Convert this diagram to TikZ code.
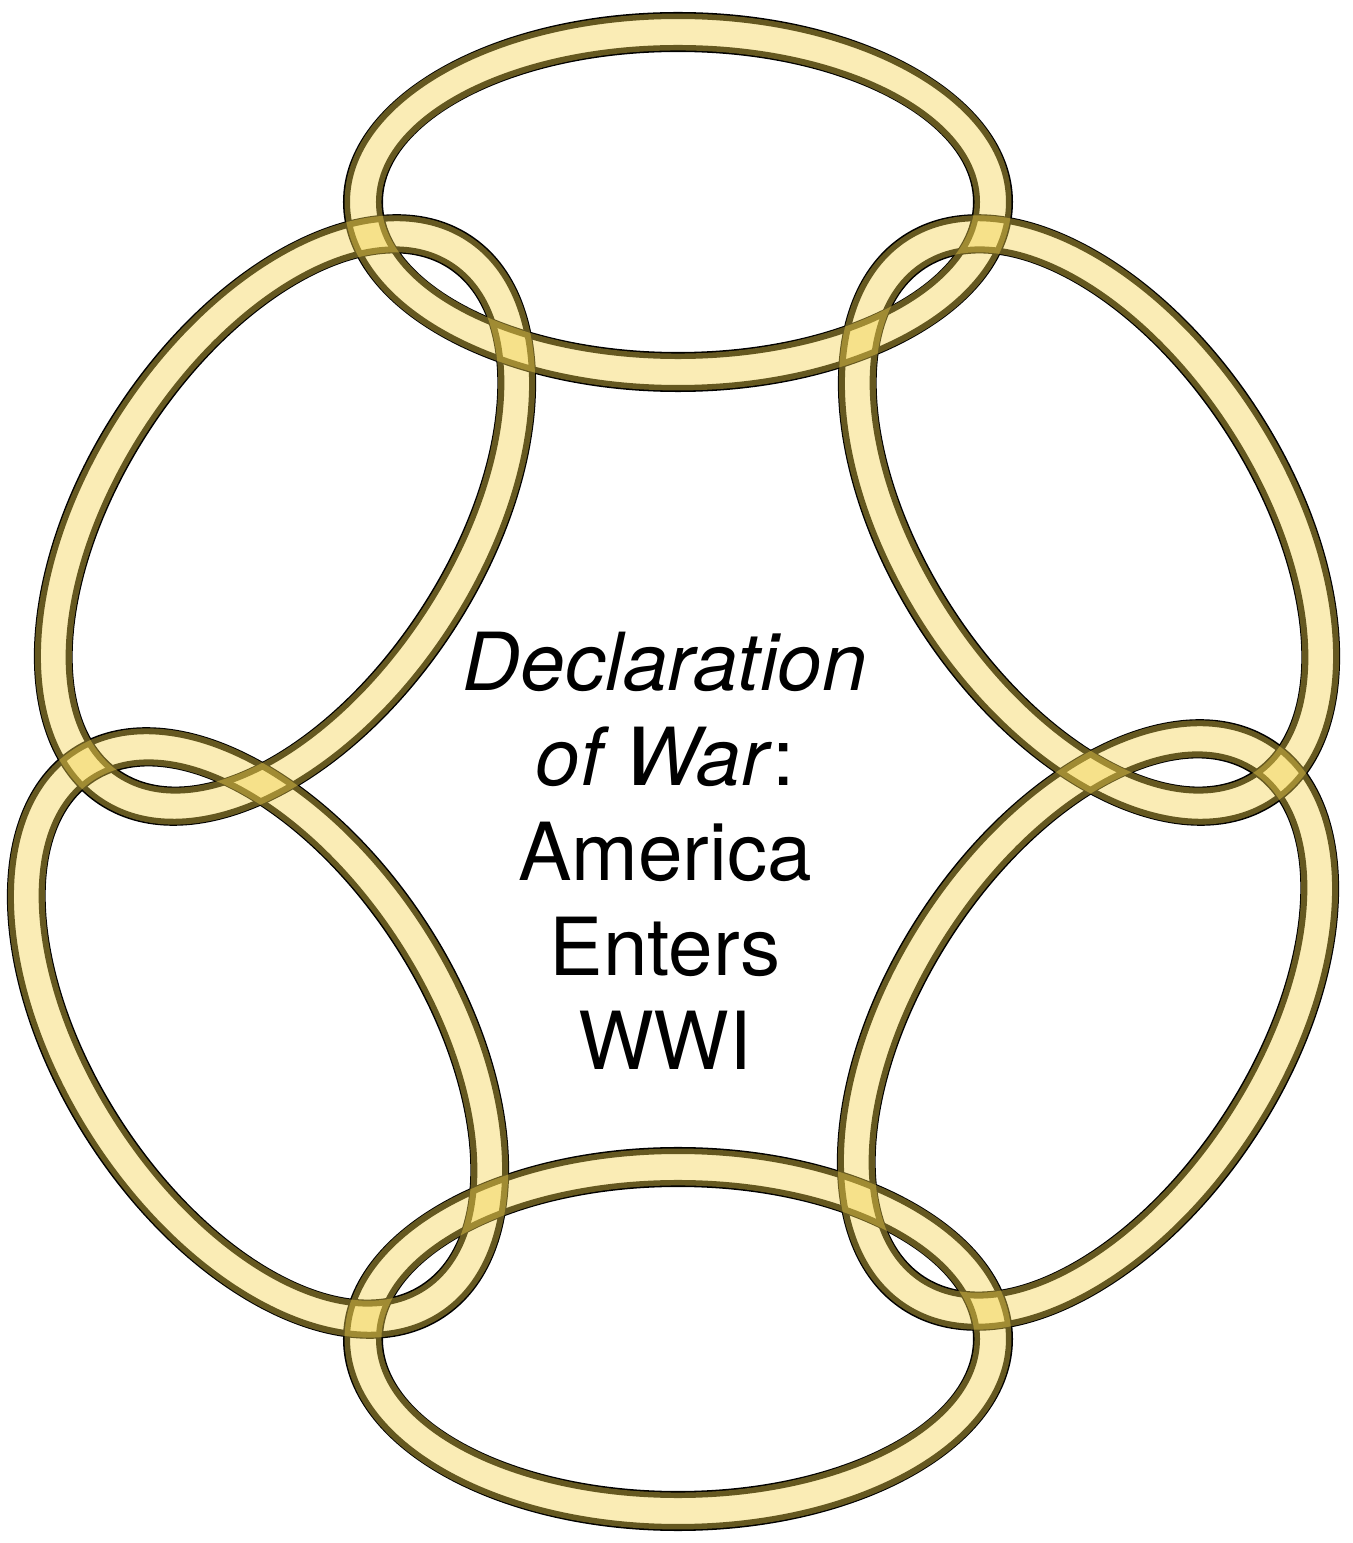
\documentclass[tikz,border=0pt]{standalone}
\usepackage{fontspec}
\setmainfont{TeX Gyre Heros}
\usepackage{tikz}
\usetikzlibrary{positioning}
\definecolor{RingPaint}{HTML}{F2D24E}
\tikzset{
  edge/.style={draw=black, line width=2pt},
  paint/.style={draw=RingPaint, line width=10.5pt, opacity=0.42},
}
\begin{document}
\begin{tikzpicture}
\useasboundingbox (0,0) rectangle (13.53,15.43);
% centres of the six links, clockwise from the top
\coordinate (top) at (6.78,13.41);
\coordinate (ur) at (10.89,10.23);
\coordinate (lr) at (10.88,5.18);
\coordinate (bot) at (6.78,2.04);
\coordinate (ll) at (2.58,5.10);
\coordinate (ul) at (2.85,10.23);
% chain: two outlines per link, then the paint over them
\foreach \c/\r/\a/\b in {top/0/3.15/1.70, ur/-57/3.2/1.82, lr/57/3.2/1.82,
                         bot/0/3.15/1.72, ll/-57/3.2/1.82, ul/57/3.2/1.82}
  \draw[edge, rotate around={\r:(\c)}]
    (\c) ellipse [x radius=\a+0.165, y radius=\b+0.165]
    (\c) ellipse [x radius=\a-0.165, y radius=\b-0.165];
\foreach \c/\r/\a/\b in {top/0/3.15/1.70, ur/-57/3.2/1.82, lr/57/3.2/1.82,
                         bot/0/3.15/1.72, ll/-57/3.2/1.82, ul/57/3.2/1.82}
  \draw[paint, rotate around={\r:(\c)}] (\c) ellipse [x radius=\a, y radius=\b];
\node[align=center, font=\fontsize{22.8}{27}\selectfont] (title) at (6.65,6.92)
  {\textit{Declaration}\\\textit{of War}:\\America\\Enters\\WWI};
\end{tikzpicture}
\end{document}
